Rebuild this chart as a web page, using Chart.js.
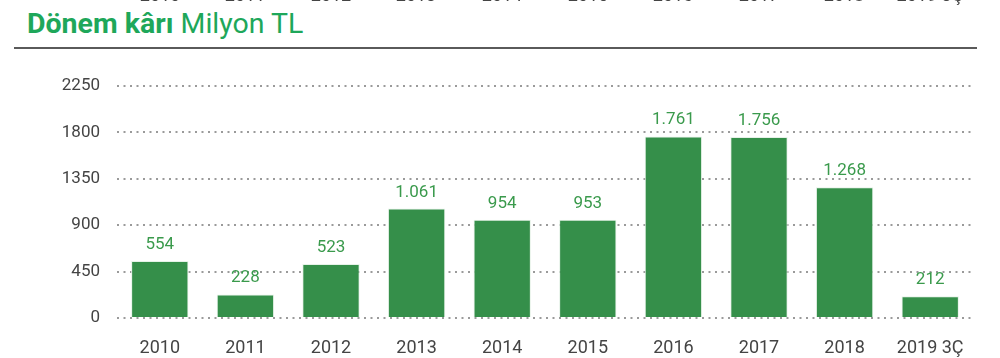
<!DOCTYPE html>
<html>
<head>
<meta charset="utf-8">
<script src="https://cdn.jsdelivr.net/npm/chart.js@4"></script>
<style>
  body { margin: 0; background: #fff; font-family: Roboto, sans-serif; }
  #wrap { position: relative; width: 1000px; height: 358px; overflow: hidden; }
  #chart { position: absolute; left: 0; top: 0; }
  .title { position: absolute; left: 27px; top: 7px; font-size: 28.5px; line-height: 34px; color: #1ea75a; white-space: nowrap; }
  .title b { font-weight: 700; }
  .rule { position: absolute; left: 14px; width: 963px; top: 47px; height: 2px; background: #5a5a5a; }
  .prev { position: absolute; top: -14px; font-size: 18px; line-height: 18px; color: #444; transform: translateX(-50%); white-space: nowrap; }
</style>
</head>
<body>
<div id="wrap">
  <div class="title"><b>Dönem kârı</b> Milyon TL</div>
  <div class="rule"></div>
  <canvas id="chart" width="1000" height="358"></canvas>
</div>
<script>
const years = ['2010', '2011', '2012', '2013', '2014', '2015', '2016', '2017', '2018', '2019 3Ç'];
const profit = [554, 228, 523, 1061, 954, 953, 1761, 1756, 1268, 212];
const yTicks = [0, 450, 900, 1350, 1800, 2250];

// labels of the chart above, cut off at the top edge
const prevCenters = [160, 245, 331, 416, 502, 588, 673, 759, 844, 930];
const wrap = document.getElementById('wrap');
years.forEach((y, i) => {
    const s = document.createElement('span');
    s.className = 'prev';
    s.textContent = y;
    s.style.left = prevCenters[i] + 'px';
    wrap.appendChild(s);
});

const fmt = v => v.toLocaleString('tr-TR');

const valueLabels = {
    id: 'valueLabels',
    afterDatasetsDraw(chart) {
        const c = chart.ctx;
        const meta = chart.getDatasetMeta(0);
        c.save();
        c.font = '17px Roboto';
        c.fillStyle = '#3a9a4c';
        c.textAlign = 'center';
        c.textBaseline = 'alphabetic';
        meta.data.forEach((bar, i) => {
            c.fillText(fmt(profit[i]), bar.x, bar.y - 12);
        });
        c.restore();
    }
};

const ctx = document.getElementById('chart').getContext('2d');
new Chart(ctx, {
    type: 'bar',
    data: {
        labels: years,
        datasets: [{
            data: profit,
            backgroundColor: '#358f4a',
            borderColor: '#e6f2e8',
            borderWidth: 1,
            barPercentage: 0.67,
            categoryPercentage: 1
        }]
    },
    options: {
        responsive: false,
        animation: false,
        layout: { padding: { top: 86, right: 27, left: 0, bottom: 0 } },
        plugins: { legend: { display: false }, tooltip: { enabled: false } },
        scales: {
            x: {
                grid: { display: false },
                border: { display: false },
                ticks: { color: '#444', font: { size: 18, family: 'Roboto' }, padding: 12 },
                afterFit(s) { s.height = 40; }
            },
            y: {
                min: 0,
                max: 2250,
                afterBuildTicks(s) { s.ticks = yTicks.map(v => ({ value: v })); },
                grid: { color: '#9a9a9a', lineWidth: 2, drawTicks: false },
                border: { display: false, dash: [2, 4.5] },
                ticks: {
                    color: '#444',
                    font: { size: 17, family: 'Roboto' },
                    padding: 17,
                    callback: v => String(v)
                },
                afterFit(s) { s.width = 117; }
            }
        }
    },
    plugins: [valueLabels]
});
</script>
</body>
</html>
